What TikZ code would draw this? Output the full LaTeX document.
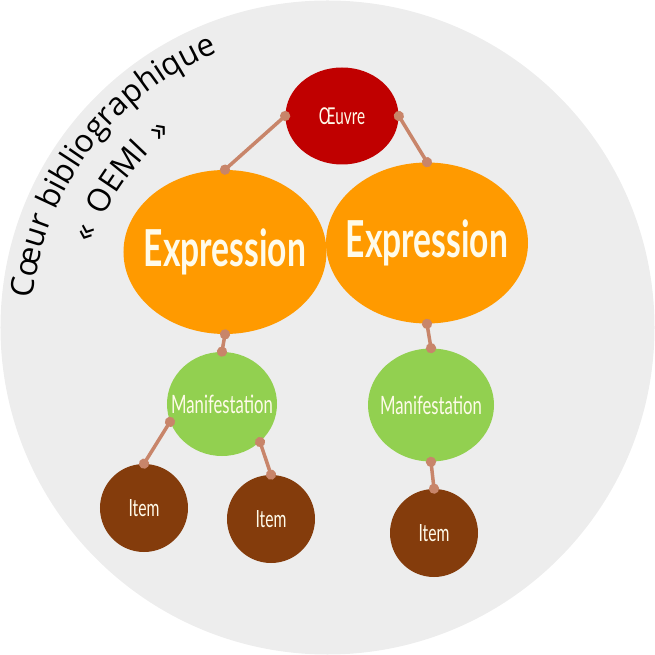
\documentclass[tikz,border=0pt]{standalone}
\usepackage{fontspec}
\setmainfont{Open Sans}
\newfontfamily\condfont[FakeStretch=0.66]{Lato}
\newfontfamily\arcfont{Open Sans}
\usetikzlibrary{shapes.geometric,arrows.meta,decorations.text}

\definecolor{coreGray}{HTML}{EDEDED}
\definecolor{oeuvreRed}{HTML}{C00000}
\definecolor{exprOrange}{HTML}{FF9A00}
\definecolor{maniGreen}{HTML}{92D050}
\definecolor{itemBrown}{HTML}{843C0C}
\definecolor{linkTan}{HTML}{C8856A}
\definecolor{labelCream}{HTML}{FFFBEA}

% texte sans largeur, pour garder la taille des ellipses
\newcommand{\ctext}[1]{\makebox[0pt]{#1}}

\begin{document}
\begin{tikzpicture}[x=0.02cm, y=0.02cm, line cap=round, line join=round]

% --- Styles ---
\def\pxu{0.02cm}
\tikzset{
    entity/.style={
        ellipse,
        inner sep=0pt,
        text=labelCream
    },
    oeuvrebox/.style={
        entity,
        fill=oeuvreRed,
        minimum width=113*\pxu,
        minimum height=97*\pxu,
        font=\condfont\fontsize{13.2}{15}\selectfont
    },
    exprbox/.style={
        entity,
        fill=exprOrange,
        font=\condfont\bfseries\fontsize{29}{31}\selectfont
    },
    manibox/.style={
        entity,
        fill=maniGreen,
        font=\condfont\fontsize{14.4}{16}\selectfont
    },
    itembox/.style={
        entity,
        fill=itemBrown,
        minimum width=88*\pxu,
        minimum height=88*\pxu,
        font=\condfont\fontsize{13.5}{15}\selectfont
    },
    link/.style={
        draw=linkTan,
        line width=2pt,
        {Circle[length=5.7pt]}-{Circle[length=5.7pt]},
        shorten <=-2.85pt,
        shorten >=-2.85pt
    }
}

\useasboundingbox (-327.5,-327.5) rectangle (327.5,327.5);

% --- Grand disque ---
\fill[coreGray] (0,0) circle[radius=327];

% --- Titre courbe ---
\path[decorate, decoration={text along path, text align=center,
    text={|\arcfont\fontsize{18}{21}\selectfont|Cœur bibliographique}}]
    (176:296) arc[start angle=176, end angle=110, radius=296];
\path[decorate, decoration={text along path, text align=center,
    text={|\arcfont\fontsize{18}{21}\selectfont|«{\hspace*{8pt}}OEMI{\hspace*{8pt}}»}}]
    (176:250) arc[start angle=176, end angle=113, radius=250];

% --- Entites ---
\node[oeuvrebox] (oeuvre) at (14.5,211.5) {\ctext{Œuvre}};

\node[exprbox, minimum width=203*\pxu, minimum height=164*\pxu]
    (exprA) at (-102.5,75.5) {\ctext{Expression}};
\node[exprbox, minimum width=202*\pxu, minimum height=161*\pxu]
    (exprB) at (99.5,84.5) {\ctext{Expression}};

\node[manibox, minimum width=110*\pxu, minimum height=104*\pxu]
    (maniA) at (-105.5,-76.5) {\ctext{Manifestation}};
\node[manibox, minimum width=126*\pxu, minimum height=113*\pxu]
    (maniB) at (103.5,-77.5) {\ctext{Manifestation}};

\node[itembox] (itemA) at (-183.5,-180.5) {\ctext{Item}};
\node[itembox] (itemB) at (-56.5,-191.5) {\ctext{Item}};
\node[itembox] (itemC) at (106.5,-205.5) {\ctext{Item}};

% --- Liens ---
\draw[link] (oeuvre.west) -- (exprA.north);
\draw[link] (oeuvre.east) -- (exprB.north);
\draw[link] (exprA.south) -- (maniA.north);
\draw[link] (exprB.south) -- (maniB.north);
\draw[link] (maniA.199) -- (itemA.north);
\draw[link] (maniA.-45) -- (itemB.north);
\draw[link] (maniB.south) -- (itemC.north);

\end{tikzpicture}
\end{document}
